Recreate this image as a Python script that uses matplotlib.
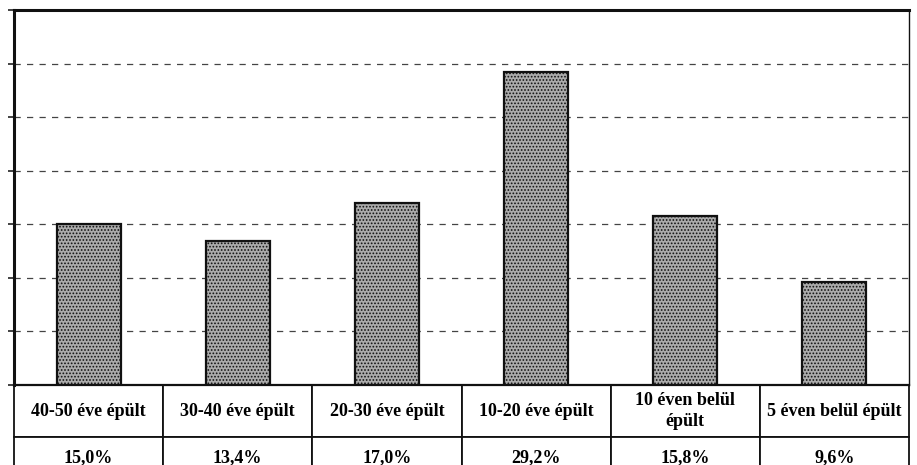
import matplotlib.pyplot as plt

categories = ['40-50 éve épült', '30-40 éve épült', '20-30 éve épült',
              '10-20 éve épült', '10 éven belül\népült', '5 éven belül épült']
values = [15.0, 13.4, 17.0, 29.2, 15.8, 9.6]
value_labels = ['15,0%', '13,4%', '17,0%', '29,2%', '15,8%', '9,6%']

plt.rcParams['font.family'] = ['Liberation Serif', 'DejaVu Serif']
plt.rcParams['hatch.color'] = '#4a4a4a'
plt.rcParams['hatch.linewidth'] = 0.8

fig = plt.figure(figsize=(9.17, 4.65), dpi=100)
ax = fig.add_axes([14/917, 1 - 385/465, (909 - 14)/917, 375/465])

x = list(range(len(values)))
ax.bar(x, values, width=0.43, color='#ababab', edgecolor='#111111',
       linewidth=1.6, hatch='.....', zorder=3)

ax.set_xlim(-0.5, len(values) - 0.5)
ax.set_ylim(0, 35)
ax.set_yticks(range(0, 36, 5))
ax.set_yticklabels([])
ax.set_xticks([])
ax.tick_params(axis='y', length=4, width=1.2, direction='out', color='#222222')
ax.yaxis.grid(True, linestyle=(0, (5, 5)), color='#444444', linewidth=0.9)

ax.spines['top'].set_linewidth(2.2)
ax.spines['left'].set_linewidth(2.2)
ax.spines['bottom'].set_linewidth(1.6)
ax.spines['right'].set_linewidth(1.0)
for s in ax.spines.values():
    s.set_color('#111111')

row1_h = 52 / 375
row2_h = 42 / 375
tbl = ax.table(cellText=[categories, value_labels], cellLoc='center',
               bbox=[0, -(row1_h + row2_h), 1, row1_h + row2_h])
tbl.auto_set_font_size(False)
for (r, c), cell in tbl.get_celld().items():
    cell.set_height(row1_h if r == 0 else row2_h)
    cell.set_linewidth(1.3)
    cell.set_edgecolor('#111111')
    cell.get_text().set_fontsize(13)
    cell.get_text().set_fontweight('bold')
    cell.get_text().set_linespacing(1.35)
    cell.PAD = 0.02

fig.savefig('out.png', dpi=100)
